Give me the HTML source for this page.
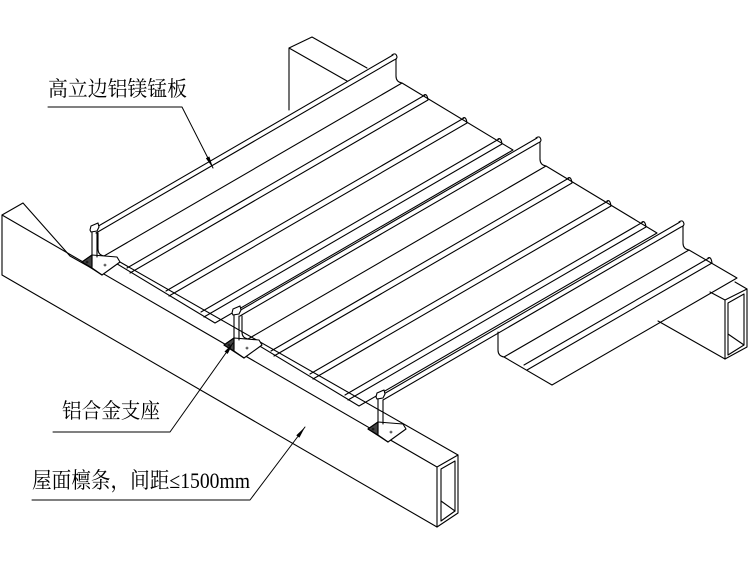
<!DOCTYPE html>
<html><head><meta charset="utf-8"><style>
html,body{margin:0;padding:0;background:#fff;}
svg{display:block;}
text{font-family:"Liberation Serif","Noto Serif CJK SC","Noto Sans CJK SC",serif;fill:#000;}
</style></head><body>
<svg width="750" height="573" viewBox="0 0 750 573" xmlns="http://www.w3.org/2000/svg">
<defs>
<marker id="ar" viewBox="0 0 12 4" refX="12" refY="2" markerWidth="12" markerHeight="4" markerUnits="userSpaceOnUse" orient="auto">
<path d="M0,0 L12,2 L0,4 Z" fill="#000"/>
</marker>
</defs>
<g fill="none" stroke="#000" stroke-width="1.1" stroke-linejoin="round" stroke-linecap="round">
<!-- back purlin -->
<path d="M289,110 L289,48 L312,37 L367,68 M289,48 L347,81"/>
<path d="M658,321 L725,359 M710,292 L725,300 M735,282 L747,289"/>
<path d="M725,300 L747,289 L747,347 L725,359 Z" fill="#fff"/>
<path d="M728,303 L744,294 L744,345 L728,355 Z"/>
<path d="M728,334 L744,345"/>

<!-- front beam -->
<path d="M2,275 L2,215 L23,203 L70,256 L102,274"/>
<path d="M2,215 L437,467"/>
<path d="M2,275 L437,527"/>
<path d="M120,262 L458,455"/>
<path d="M437,467 L458,455 L458,513 L437,527 Z" fill="#fff"/>
<path d="M441,469 L455,461 L455,511 L441,521 Z"/>
<path d="M441,501 L455,511"/>

<!-- rib + panel 0 -->
<g transform="translate(393,55)">
<path d="M0,0 L-298,173 M1,5 L-297,178 M-1,0 Q3,-3 4,2 Q4,4 1,5"/>
<path d="M3,4 L3,21 Q3,27 9,28 L-289,201 M-295,178 L-295,194 Q-295,200 -289,201"/>
<path d="M9,28 L120,95 L-178,268 M-289,201 L-178,268"/>
<path d="M32,40 L-266,213 M35,45 L-263,218 M31,40 Q34,38 35,45"/>
<path d="M71,63 L-227,236 M74,68 L-224,241 M70,63 Q73,61 74,68"/>
<path d="M106,84 L-192,257 M109,89 L-189,262 M105,84 Q108,82 109,89"/>
</g>
<!-- rib + panel 1 -->
<g transform="translate(537,138)">
<path d="M0,0 L-298,173 M1,5 L-297,178 M-1,0 Q3,-3 4,2 Q4,4 1,5"/>
<path d="M3,4 L3,21 Q3,27 9,28 L-289,201 M-295,178 L-295,194 Q-295,200 -289,201"/>
<path d="M9,28 L120,95 L-178,268 M-289,201 L-178,268"/>
<path d="M32,40 L-266,213 M35,45 L-263,218 M31,40 Q34,38 35,45"/>
<path d="M71,63 L-227,236 M74,68 L-224,241 M70,63 Q73,61 74,68"/>
<path d="M106,84 L-192,257 M109,89 L-189,262 M105,84 Q108,82 109,89"/>
</g>
<!-- rib 2 + partial panel -->
<g transform="translate(680,222)">
<path d="M0,0 L-298,173 M1,5 L-297,178 M-1,0 Q3,-3 4,2 Q4,4 1,5"/>
<path d="M3,4 L3,21 Q3,27 9,28 L-176,135 M-182,110 L-182,128 Q-182,134 -176,135"/>
<path d="M9,28 L57,56 L-128,163 M-176,135 L-128,163"/>
<path d="M29,36 L-156,143 M32,41 L-153,148 M28,36 Q31,34 32,41"/>
</g>

<!-- supports -->
<g id="sp" transform="translate(95,228)">
<path d="M-13,34 L-3,27 L22,29 L25,34 L7,47 Z" fill="#fff"/>
<path d="M-13,34 L-3,27 L-3,40 Z" fill="#444"/>
<path d="M-3,40 L7,47"/>
<path d="M-3,3 L-3,38 M2,5 L2,29" />
<path d="M-5,2 L-4,-2 L3,-5 L4,-1 L2,3 L-4,4 Z" fill="#fff"/>
<circle cx="-8" cy="34" r="1" stroke-width="0.6"/>
<circle cx="10" cy="37" r="1" stroke-width="0.6"/>
</g>
<g transform="translate(142,83)">
<g transform="translate(95,228)">
<path d="M-13,34 L-3,27 L22,29 L25,34 L7,47 Z" fill="#fff"/>
<path d="M-13,34 L-3,27 L-3,40 Z" fill="#444"/>
<path d="M-3,40 L7,47"/>
<path d="M-3,3 L-3,38 M2,5 L2,29" />
<path d="M-5,2 L-4,-2 L3,-5 L4,-1 L2,3 L-4,4 Z" fill="#fff"/>
<circle cx="-8" cy="34" r="1" stroke-width="0.6"/>
<circle cx="10" cy="37" r="1" stroke-width="0.6"/>
</g></g>
<g transform="translate(286,167)">
<g transform="translate(95,228)">
<path d="M-13,34 L-3,27 L22,29 L25,34 L7,47 Z" fill="#fff"/>
<path d="M-13,34 L-3,27 L-3,40 Z" fill="#444"/>
<path d="M-3,40 L7,47"/>
<path d="M-3,3 L-3,38 M2,5 L2,29" />
<path d="M-5,2 L-4,-2 L3,-5 L4,-1 L2,3 L-4,4 Z" fill="#fff"/>
<circle cx="-8" cy="34" r="1" stroke-width="0.6"/>
<circle cx="10" cy="37" r="1" stroke-width="0.6"/>
</g></g>

<!-- leaders -->
<path d="M48,107 L182,107 L213,168" stroke-width="1" marker-end="url(#ar)"/>
<path d="M53,432 L170,432 L233,343" stroke-width="1" marker-end="url(#ar)"/>
<path d="M32,500 L250,500 L305,427" stroke-width="1" marker-end="url(#ar)"/>
</g>

<text x="48" y="96" font-size="21" textLength="139" lengthAdjust="spacingAndGlyphs">高立边铝镁锰板</text>
<text x="62" y="418" font-size="21" textLength="98" lengthAdjust="spacingAndGlyphs">铝合金支座</text>
<text x="32" y="488" font-size="22" textLength="218" lengthAdjust="spacingAndGlyphs">屋面檩条，间距≤1500mm</text>
</svg>
</body></html>
